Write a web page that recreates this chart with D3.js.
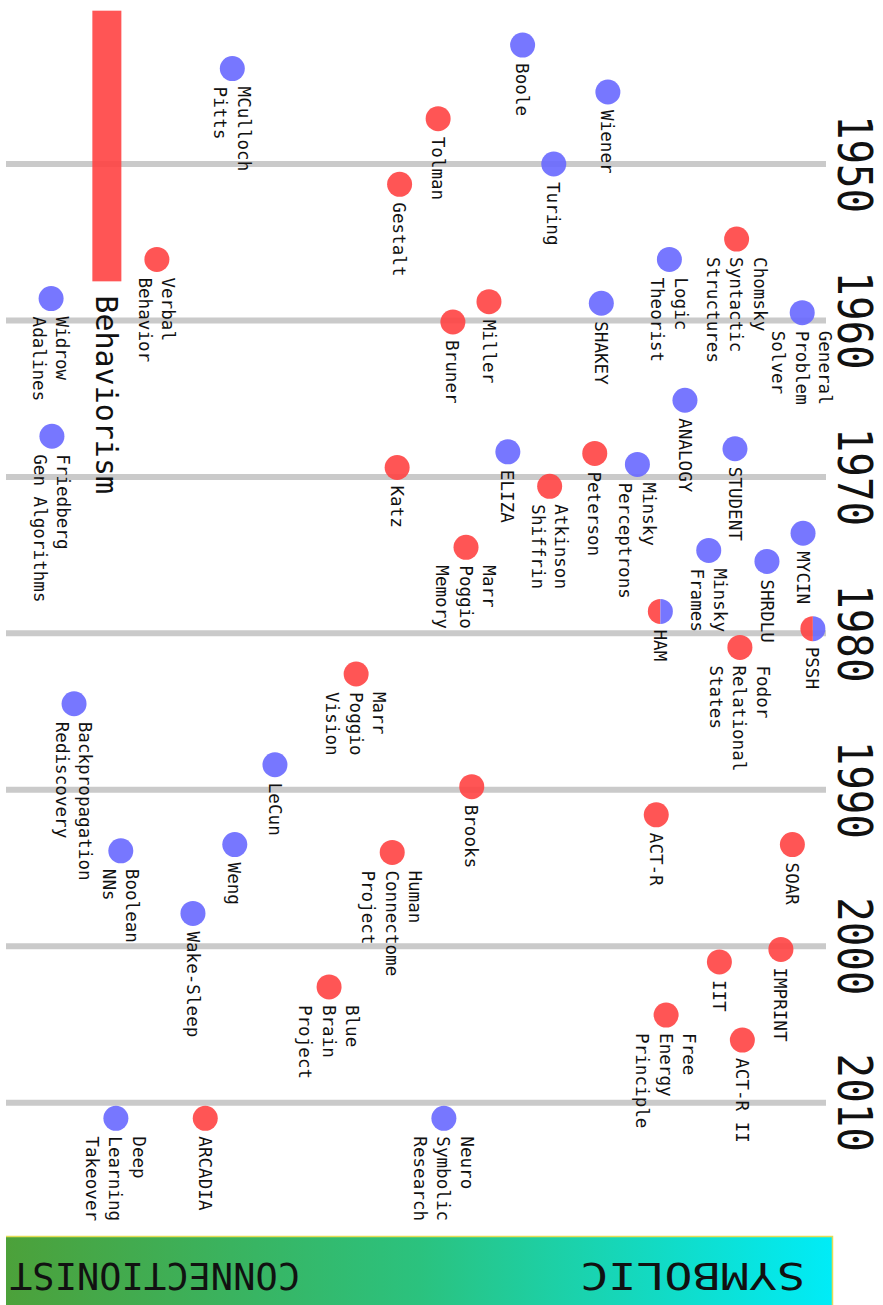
<!DOCTYPE html>
<html>
<head>
	<meta charset="utf-8">
	<title>Symbolic vs Connectionist timeline</title>
	<script src="https://d3js.org/d3.v7.min.js"></script>
	<style type="text/css">
	html, body{
		margin:0;
		background:#fff;
	}
	svg{
		display:block;
	}
	.lbl{
		font-family: "DejaVu Sans Mono", monospace;
		font-size: 17.6px;
		fill: #111;
	}
	.year{
		font-family: "DejaVu Sans Mono", monospace;
		font-size: 48px;
		fill: #111;
	}
	</style>
</head>
<body>
<div id="chart"></div>
<script type="text/javascript">
	// events: year, position (0 = connectionist .. 100 = symbolic), kind
	var names = ["Boole","MCulloch\nPitts","Wiener","Tolman","Turing","Gestalt",
		"Chomsky\nSyntactic\nStructures","Verbal\nBehavior","Logic\nTheorist","Widrow\nAdalines",
		"Miller","SHAKEY","General\nProblem\nSolver","Bruner","ANALOGY","Friedberg\nGen Algorithms",
		"ELIZA","STUDENT","Peterson","Minsky\nPerceptrons","Katz","Atkinson\nShiffrin","MYCIN",
		"Marr\nPoggio\nMemory","Minsky\nFrames","SHRDLU","HAM","PSSH","Fodor\nRelational\nStates",
		"Marr\nPoggio\nVision","Backpropagation\nRediscovery","LeCun","Brooks","ACT-R","Weng",
		"Boolean\nNNs","Human\nConnectome\nProject","SOAR","Wake-Sleep","IMPRINT","IIT",
		"Blue\nBrain\nProject","Free\nEnergy\nPrinciple","ACT-R II","Neuro\nSymbolic\nResearch",
		"ARCADIA","Deep\nLearning\nTakeover"];
	var years = [1942.4,1943.9,1945.4,1947.1,1950.0,1951.3,
		1954.8,1956.1,1956.1,1958.6,
		1958.8,1958.9,1959.5,1960.1,1965.1,1967.4,
		1968.4,1968.2,1968.5,1969.2,1969.4,1970.6,1973.6,
		1974.5,1974.7,1975.4,1978.6,1979.7,1980.9,
		1982.6,1984.5,1988.4,1989.8,1991.6,1993.5,
		1993.9,1994.0,1993.5,1997.9,2000.2,2001.0,
		2002.6,2004.4,2006.0,2011.0,
		2011.0,2011.0];
	var scores = [63.0,27.6,73.4,52.7,66.8,48.0,
		89.1,18.4,80.9,5.5,
		58.9,72.6,97.1,54.5,82.8,5.6,
		61.2,88.9,71.8,77.0,47.7,66.3,97.2,
		56.1,85.7,92.8,79.8,98.4,89.5,
		42.7,8.3,32.8,56.8,79.3,27.9,
		14.0,47.1,95.9,22.8,94.5,87.0,
		39.4,80.5,89.8,53.4,
		24.3,13.4];
	// r = cognitive / psychology, b = computational, rb = both
	var kinds = ["b","b","b","r","b","r",
		"r","r","b","b",
		"r","b","b","r","b","b",
		"b","b","r","b","r","r","b",
		"r","b","b","rb","rb","r",
		"r","b","b","r","r","b",
		"b","r","r","b","r","r",
		"r","r","r","b",
		"r","b"];

	var periodNames = ["Behaviorism"];
	var periodStart = [1940.2];
	var periodEnd = [1957.5];
	var periodScore = [12.3];

	var tickYears = [1950,1960,1970,1980,1990,2000,2010];
	var sideLabels = ["CONNECTIONIST","SYMBOLIC"];

	var W = 883, H = 1305;
	var RED = "rgb(255,66,66)", BLUE = "rgb(104,104,255)";

	var svg = d3.select("#chart").append("svg").attr("width",W).attr("height",H);

	var y = d3.scaleLinear().domain([1950,2010]).range([164,1102.7]);
	var x = d3.scaleLinear().domain([0,100]).range([6,826]);

	/* grid lines */
	svg.selectAll("line.grid").data(tickYears).enter().append("line")
		.attr("class","grid")
		.attr("x1",x(0)).attr("x2",x(100))
		.attr("y1",function(d){ return y(d); })
		.attr("y2",function(d){ return y(d); })
		.attr("stroke","#cacaca").attr("stroke-width",6);

	/* year labels, rotated and a bit condensed */
	svg.selectAll("text.year").data(tickYears).enter().append("text")
		.attr("class","year")
		.attr("text-anchor","middle")
		.attr("transform",function(d){ return "translate(838," + y(d) + ") rotate(90) scale(0.85,1)"; })
		.text(function(d){ return d; });

	/* behaviorism period */
	periodNames.forEach(function(p,i){
		var cx = x(periodScore[i]);
		svg.append("rect")
			.attr("x",cx-14.5).attr("width",29)
			.attr("y",y(periodStart[i])).attr("height",y(periodEnd[i])-y(periodStart[i]))
			.attr("fill",RED).attr("opacity",0.9);
		svg.append("text")
			.attr("transform","translate(" + cx + "," + (y(periodEnd[i])+14) + ") rotate(90)")
			.attr("dy",11)
			.style("font-family","'DejaVu Sans Mono', monospace")
			.style("font-size","30px")
			.attr("fill","#111")
			.text(p);
	});

	var events = names.map(function(n,i){
		return {name:n, year:years[i], score:scores[i], kind:kinds[i]};
	});

	var R = 12.5;
	var arc = d3.arc().innerRadius(0).outerRadius(R);

	var dots = svg.selectAll("g.ev").data(events).enter().append("g")
		.attr("class","ev")
		.attr("transform",function(d){ return "translate(" + x(d.score) + "," + y(d.year) + ")"; })
		.attr("opacity",0.9);

	dots.filter(function(d){ return d.kind != "rb"; }).append("circle")
		.attr("r",R)
		.attr("fill",function(d){ return d.kind == "r" ? RED : BLUE; });

	// split markers: left half red, right half blue
	var split = dots.filter(function(d){ return d.kind == "rb"; });
	split.append("path").attr("d",arc({startAngle:Math.PI, endAngle:2*Math.PI})).attr("fill",RED);
	split.append("path").attr("d",arc({startAngle:0, endAngle:Math.PI})).attr("fill",BLUE);

	/* labels: start below the dot, lines centred on it */
	var LH = 23.5;
	svg.selectAll("text.lbl").data(events).enter().append("text")
		.attr("class","lbl")
		.attr("transform",function(d){ return "translate(" + x(d.score) + "," + (y(d.year)+18) + ") rotate(90)"; })
		.each(function(d){
			var lines = d.name.split("\n");
			var t = d3.select(this);
			lines.forEach(function(l,k){
				t.append("tspan").attr("x",0)
					.attr("y",(k-(lines.length-1)/2)*LH + 6.4)
					.text(l);
			});
		});

	/* gradient band at the bottom */
	var grad = svg.append("defs").append("linearGradient").attr("id","band");
	grad.append("stop").attr("offset","0%").attr("stop-color","#4ca13a");
	grad.append("stop").attr("offset","50%").attr("stop-color","#2bc27e");
	grad.append("stop").attr("offset","100%").attr("stop-color","#00ecf7");

	svg.append("rect").attr("x",6).attr("y",1236).attr("width",826).attr("height",75)
		.attr("fill","url(#band)");
	svg.append("path").attr("d","M6,1236.5H832.5V1305")
		.attr("fill","none").attr("stroke","#e3dd55").attr("stroke-width",1.5);

	var sideX = [300,805], sideLen = [290,225];
	sideLabels.forEach(function(s,i){
		svg.append("text")
			.attr("transform","translate(" + sideX[i] + ",1263) rotate(180)")
			.attr("textLength",sideLen[i]).attr("lengthAdjust","spacingAndGlyphs")
			.style("font-family","'DejaVu Sans Mono', monospace")
			.style("font-size","37px")
			.attr("fill","#111")
			.text(s);
	});
</script>
</body>
</html>
